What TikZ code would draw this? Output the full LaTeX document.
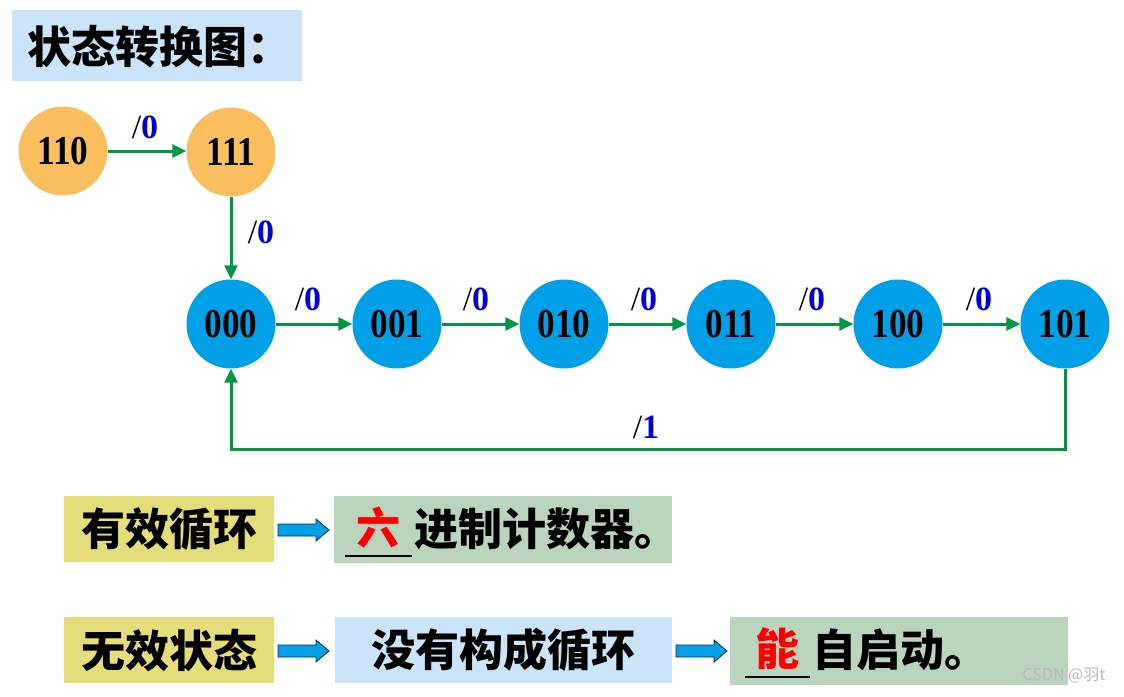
\documentclass[tikz,border=0pt]{standalone}
\usepackage{fontspec}
\setmainfont{Liberation Serif}
\newfontfamily\cjk{Noto Sans CJK SC}
\usetikzlibrary{arrows.meta}
\definecolor{orangeC}{RGB}{251,190,95}
\definecolor{blueC}{RGB}{0,160,233}
\definecolor{greenL}{RGB}{0,150,70}
\definecolor{lblue}{RGB}{0,0,220}
\definecolor{titlebg}{RGB}{204,228,250}
\definecolor{yellowbg}{RGB}{228,222,122}
\definecolor{greenbg}{RGB}{187,212,190}
\definecolor{arrowblue}{RGB}{0,160,233}
\definecolor{arrowedge}{RGB}{20,40,90}
\tikzset{
 state/.style={circle, minimum size=89pt, inner sep=0pt, font=\fontsize{41}{44}\selectfont\bfseries},
 ostate/.style={state, fill=orangeC},
 bstate/.style={state, fill=blueC},
 trans/.style={draw=greenL, line width=3pt, -{Triangle[length=14pt,width=13pt]}},
 lbl/.style={font=\fontsize{34}{38}\selectfont\bfseries, inner sep=0pt},
 cjktext/.style={inner sep=0pt, font=\cjk\bfseries\fontsize{44}{48}\selectfont},
 bgbox/.style={inner sep=0pt, anchor=north west},
 blockarrow/.style={fill=arrowblue, draw=arrowedge, line width=0.8pt},
}
\newcommand\blockarr[2]{\draw[blockarrow] (#1,#2) ++(0,-6) -- ++(38,0) -- ++(0,-5) -- ++(13,11) -- ++(-13,11) -- ++(0,-5) -- ++(-38,0) -- cycle;}
\newcommand\lab[1]{{\mdseries/}\textcolor{lblue}{#1}}
\newcommand\stxt[1]{\scalebox{0.86}[1]{#1}}
\begin{document}
\begin{tikzpicture}[x=1pt,y=-1pt]
\useasboundingbox (0,0) rectangle (1124,696);
% title
\node[bgbox, fill=titlebg, minimum width=290pt, minimum height=71pt] (titlebox) at (12,10) {};
\node[cjktext, anchor=west] (title) at (27,47) {状态转换图：};
% states
\node[ostate] (s110) at (63,151) {\stxt{110}};
\node[ostate] (s111) at (231,152) {\stxt{111}};
\node[bstate] (s000) at (231,324) {\stxt{000}};
\node[bstate] (s001) at (397,324) {\stxt{001}};
\node[bstate] (s010) at (564,324) {\stxt{010}};
\node[bstate] (s011) at (731,324) {\stxt{011}};
\node[bstate] (s100) at (898,324) {\stxt{100}};
\node[bstate] (s101) at (1065,324) {\stxt{101}};
% transitions
\draw[trans] (s110) -- (s111.west |- s110);
\draw[trans] (s111) -- (s000);
\draw[trans] (s000) -- (s001);
\draw[trans] (s001) -- (s010);
\draw[trans] (s010) -- (s011);
\draw[trans] (s011) -- (s100);
\draw[trans] (s100) -- (s101);
\draw[trans] (s101.south) -- ++(0,81) -| (s000.south);
% labels
\node[lbl] (l1) at (145,127) {\lab{0}};
\node[lbl] (l2) at (261,232) {\lab{0}};
\node[lbl] (l3) at (308,299) {\lab{0}};
\node[lbl] (l4) at (476,299) {\lab{0}};
\node[lbl] (l5) at (644,299) {\lab{0}};
\node[lbl] (l6) at (812,299) {\lab{0}};
\node[lbl] (l7) at (979,299) {\lab{0}};
\node[lbl] (l8) at (646,427) {\lab{1}};
% row 1
\node[bgbox, fill=yellowbg, minimum width=210pt, minimum height=66pt] (y1) at (64,496) {};
\node[cjktext] (y1t) at (y1.center) {有效循环};
\blockarr{278}{530}
\node[bgbox, fill=greenbg, minimum width=338pt, minimum height=67pt] (g1) at (334,496) {};
\node[cjktext, text=red] (liu) at (378,528) {六};
\draw[line width=2pt] (345,556) -- (412,556);
\node[cjktext, anchor=west] (g1t) at (414,529) {进制计数器。};
% row 2
\node[bgbox, fill=yellowbg, minimum width=210pt, minimum height=66pt] (y2) at (64,617) {};
\node[cjktext] (y2t) at (y2.center) {无效状态};
\blockarr{278}{651}
\node[bgbox, fill=titlebg, minimum width=337pt, minimum height=66pt] (b2) at (335,617) {};
\node[cjktext] (b2t) at (b2.center) {没有构成循环};
\blockarr{676}{651}
\node[bgbox, fill=greenbg, minimum width=338pt, minimum height=68pt] (g2) at (730,617) {};
\node[cjktext, text=red] (neng) at (777,649) {能};
\draw[line width=2pt] (745,677) -- (810,677);
\node[cjktext, anchor=west] (g2t) at (812,650) {自启动。};
% watermark
\node[text=black!28, font=\cjk\fontsize{16}{18}\selectfont, inner sep=0pt] (wm) at (1064,676) {CSDN @羽t};
\end{tikzpicture}
\end{document}
